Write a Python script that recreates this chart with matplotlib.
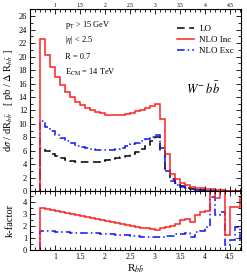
import numpy as np
import matplotlib
matplotlib.use("Agg")
import matplotlib.pyplot as plt
from matplotlib.ticker import MultipleLocator, FuncFormatter

plt.rcParams['font.family'] = ['Liberation Serif', 'DejaVu Serif']
plt.rcParams['mathtext.fontset'] = 'stix'

# bin edges (R_bb) from 0.7 to 4.8 in steps of 0.1
edges = np.round(np.arange(0.7, 4.81, 0.1), 2)

lo = [6.4, 6.0, 5.6, 5.2, 4.9, 4.7, 4.5, 4.4, 4.3, 4.3,
      4.35, 4.4, 4.5, 4.6, 4.75, 4.9, 5.1, 5.3, 5.6, 5.9,
      6.3, 6.8, 7.4, 8.0, 6.0, 3.3, 1.8, 1.2, 0.8, 0.5,
      0.35, 0.25, 0.15, 0.1, 0.07, 0.05, 0.03, 0.02, 0.01, 0.01, 0.01]
nlo_inc = [22.6, 20.3, 18.5, 17.0, 15.8, 14.8, 14.0, 13.3, 12.8, 12.4,
           12.1, 11.8, 11.6, 11.4, 11.4, 11.4, 11.4, 11.5, 11.7, 11.9,
           12.1, 12.3, 12.6, 13.0, 10.8, 5.5, 2.6, 1.8, 1.2, 0.9,
           0.7, 0.5, 0.45, 0.4, 0.35, 0.25, 0.2, 0.1, 0.1, 0.1, 0.1]
nlo_exc = [10.4, 9.5, 9.0, 8.4, 7.9, 7.5, 7.1, 6.8, 6.6, 6.4,
           6.3, 6.2, 6.2, 6.2, 6.2, 6.3, 6.5, 6.7, 7.0, 7.2,
           7.5, 7.8, 8.1, 8.4, 6.5, 3.0, 1.5, 1.0, 0.7, 0.45,
           0.3, 0.2, 0.15, 0.1, 0.05, 0.05, 0.04, 0.03, 0.02, 0.02, 0.02]

k_inc = [3.50, 3.42, 3.33, 3.25, 3.17, 3.09, 3.01, 2.93, 2.85, 2.77,
         2.68, 2.60, 2.52, 2.44, 2.36, 2.28, 2.20, 2.12, 2.03, 1.95,
         1.87, 1.80, 1.74, 1.70, 1.85, 1.90, 2.00, 2.15, 2.50, 2.60,
         2.30, 2.90, 3.20, 3.25, 6.00, 4.30, 6.00, 1.25, 3.60, 3.60, 4.40]
k_exc = [1.60, 1.58, 1.55, 1.53, 1.50, 1.48, 1.46, 1.45, 1.43, 1.42,
         1.40, 1.38, 1.35, 1.32, 1.30, 1.28, 1.25, 1.22, 1.18, 1.15,
         1.12, 1.10, 1.07, 1.05, 1.10, 1.15, 1.20, 1.30, 1.35, 1.40,
         1.05, 1.50, 1.55, 1.90, 4.40, 2.90, 3.20, 0.40, 0.80, 1.90, 0.60]

xticks = [1, 1.5, 2, 2.5, 3, 3.5, 4, 4.5]

fig = plt.figure(figsize=(2.47, 2.76), dpi=100)
ax1 = fig.add_axes([0.1215, 0.3069, 0.854, 0.6587])
ax2 = fig.add_axes([0.1215, 0.0942, 0.854, 0.2127])

lw = 1.1
ax1.stairs(lo, edges, baseline=0, color='black', lw=lw, ls=(0, (5, 3)), label='LO')
ax1.stairs(nlo_exc, edges, baseline=0, color='#1010ff', lw=lw, ls=(0, (5, 2, 1, 2)), label='NLO Exc')
ax1.stairs(nlo_inc, edges, baseline=0, color='#ff2020', lw=lw, label='NLO Inc')

ax2.stairs(k_exc, edges, baseline=0, color='#1010ff', lw=lw, ls=(0, (5, 2, 1, 2)))
ax2.stairs(k_inc, edges, baseline=0, color='#ff2020', lw=lw)

fmt = FuncFormatter(lambda v, p: '%g' % v)
for ax in (ax1, ax2):
    ax.set_xlim(0.5, 4.72)
    ax.set_xticks(xticks)
    ax.xaxis.set_minor_locator(MultipleLocator(0.1))
    ax.xaxis.set_major_formatter(fmt)
    ax.tick_params(which='both', direction='in', top=True, right=True, width=0.6)
    ax.tick_params(which='major', length=3.5)
    ax.tick_params(which='minor', length=2)
    for s in ax.spines.values():
        s.set_linewidth(0.8)

ax1.set_ylim(0, 27)
ax1.yaxis.set_major_locator(MultipleLocator(2))
ax1.yaxis.set_minor_locator(MultipleLocator(1))
ax1.tick_params(axis='x', labelbottom=False, labeltop=True, labelsize=4, pad=1)
ax1.tick_params(axis='y', labelsize=6, pad=2)

ax2.set_ylim(0, 4.9)
ax2.yaxis.set_major_locator(MultipleLocator(1))
ax2.yaxis.set_minor_locator(MultipleLocator(0.5))
ax2.tick_params(axis='x', labelsize=5.5, pad=2)
ax2.tick_params(axis='y', labelsize=6, pad=2)

ax1.set_ylabel(r'd$\sigma$ / dR$_{b\bar{b}}$   [ pb / $\Delta$ R$_{b\bar{b}}$ ]', fontsize=7.5, labelpad=3)
ax2.set_ylabel('k-factor', fontsize=7.5, labelpad=6)
ax2.set_xlabel(r'R$_{b\bar{b}}$', fontsize=8, labelpad=1)

tx = dict(transform=fig.transFigure, fontsize=6, va='center', ha='left')
fig.text(65/247, 1-25/276, r'p$_{\mathrm{T}}$ > 15 GeV', **tx)
fig.text(65/247, 1-40/276, r'|$\eta$| < 2.5', **tx)
fig.text(65/247, 1-57/276, 'R = 0.7', **tx)
fig.text(65/247, 1-72/276, r'E$_{\mathrm{CM}}$ = 14 TeV', **tx)
fig.text(203/247, 1-89/276, r'$W^{-}\,b\bar{b}$', fontsize=9, ha='center', va='center')

h, l = ax1.get_legend_handles_labels()
order = [0, 2, 1]
ax1.legend([h[i] for i in order], [l[i] for i in order], loc='upper left',
           bbox_to_anchor=(0.675, 0.94), frameon=False, fontsize=6.5,
           handlelength=1.9, handletextpad=0.6, labelspacing=0.3, borderpad=0)

fig.savefig('out.png', dpi=100)
